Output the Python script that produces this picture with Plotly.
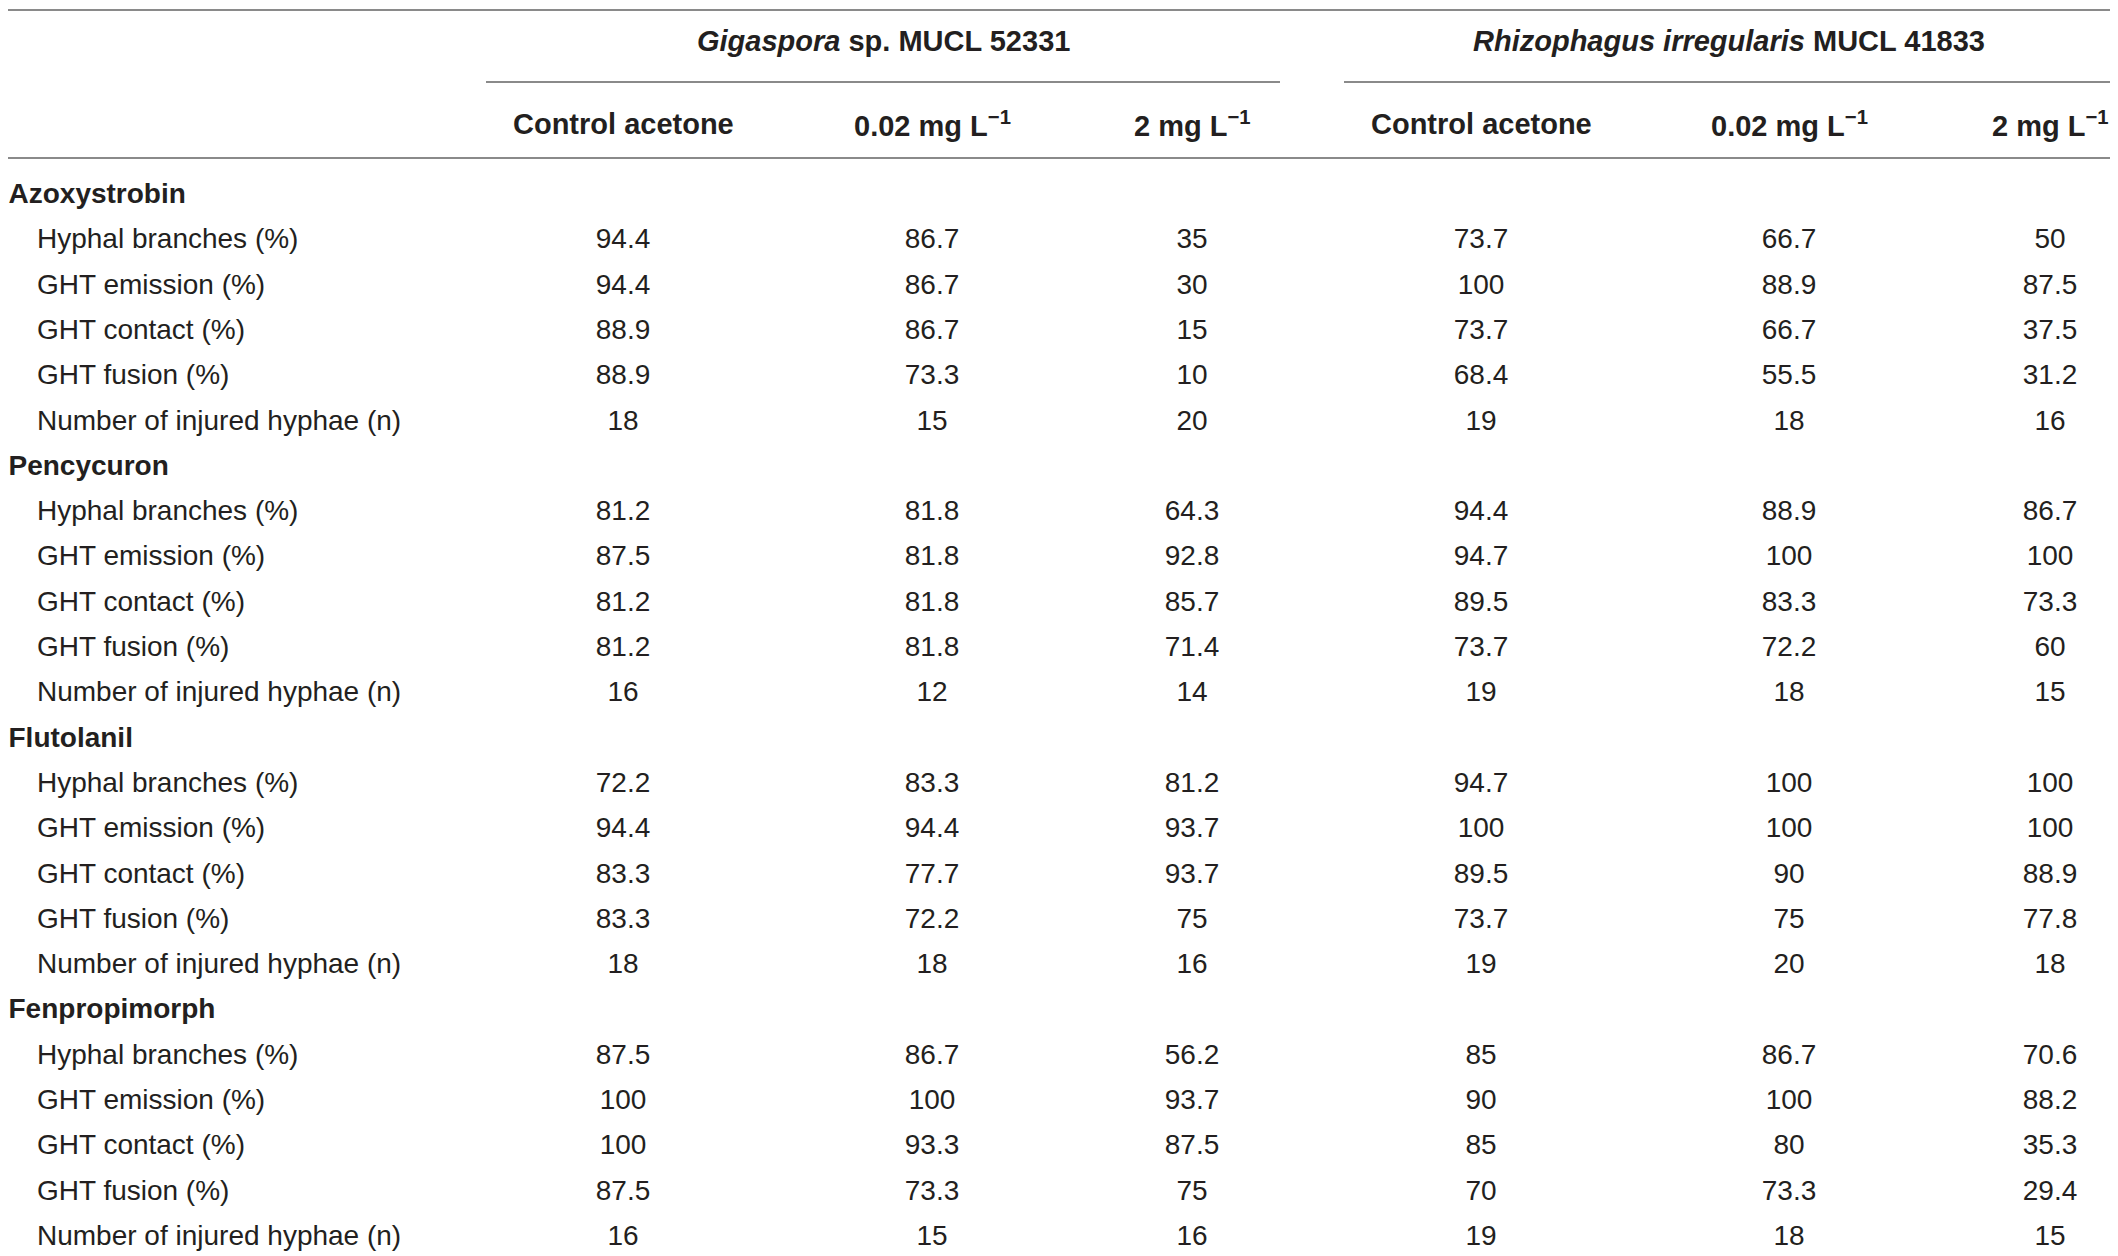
import plotly.graph_objects as go

# table content
compounds = ["Azoxystrobin", "Pencycuron", "Flutolanil", "Fenpropimorph"]
measures = [
    "Hyphal branches (%)",
    "GHT emission (%)",
    "GHT contact (%)",
    "GHT fusion (%)",
    "Number of injured hyphae (n)",
]
species = ["<i>Gigaspora</i> sp. MUCL 52331", "<i>Rhizophagus irregularis</i> MUCL 41833"]
treatments = ["Control acetone", "0.02 mg L<sup>−1</sup>", "2 mg L<sup>−1</sup>"]

# values per compound: Gigaspora (ctrl, 0.02, 2) then Rhizophagus (ctrl, 0.02, 2)
azoxystrobin = [
    ["94.4", "94.4", "88.9", "88.9", "18"],
    ["86.7", "86.7", "86.7", "73.3", "15"],
    ["35", "30", "15", "10", "20"],
    ["73.7", "100", "73.7", "68.4", "19"],
    ["66.7", "88.9", "66.7", "55.5", "18"],
    ["50", "87.5", "37.5", "31.2", "16"],
]
pencycuron = [
    ["81.2", "87.5", "81.2", "81.2", "16"],
    ["81.8", "81.8", "81.8", "81.8", "12"],
    ["64.3", "92.8", "85.7", "71.4", "14"],
    ["94.4", "94.7", "89.5", "73.7", "19"],
    ["88.9", "100", "83.3", "72.2", "18"],
    ["86.7", "100", "73.3", "60", "15"],
]
flutolanil = [
    ["72.2", "94.4", "83.3", "83.3", "18"],
    ["83.3", "94.4", "77.7", "72.2", "18"],
    ["81.2", "93.7", "93.7", "75", "16"],
    ["94.7", "100", "89.5", "73.7", "19"],
    ["100", "100", "90", "75", "20"],
    ["100", "100", "88.9", "77.8", "18"],
]
fenpropimorph = [
    ["87.5", "100", "100", "87.5", "16"],
    ["86.7", "100", "93.3", "73.3", "15"],
    ["56.2", "93.7", "87.5", "75", "16"],
    ["85", "90", "85", "70", "19"],
    ["86.7", "100", "80", "73.3", "18"],
    ["70.6", "88.2", "35.3", "29.4", "15"],
]
table = [azoxystrobin, pencycuron, flutolanil, fenpropimorph]

# layout in pixels (page body has an 8px margin, so the axes are shifted by it)
W, H = 2118, 1256
PAD = 8
col_x = [623, 932, 1192, 1481, 1789, 2050]
group_span = [(486, 1280), (1344, 2113)]
row0, row_step = 196, 45.3
ink = "#231f20"
rule = "#8a8a8a"
fam = "Liberation Sans, Arial, sans-serif"
body = dict(family=fam, size=28, color=ink)
bold = dict(family=fam, size=28, color=ink, weight="bold")
head = dict(family=fam, size=29, color=ink, weight="bold")

fig = go.Figure()

row_y = lambda i: row0 + i * row_step

# compound headings and measure labels
head_y, lab_y, lab_t = [], [], []
for c, name in enumerate(compounds):
    base = c * (len(measures) + 1)
    head_y.append(row_y(base))
    for m, meas in enumerate(measures):
        lab_y.append(row_y(base + 1 + m))
        lab_t.append(meas)

fig.add_trace(go.Scatter(
    x=[8.5] * len(compounds), y=head_y, text=compounds, mode="text",
    textposition="middle right", textfont=bold, hoverinfo="skip", showlegend=False,
    cliponaxis=False,
))
fig.add_trace(go.Scatter(
    x=[37] * len(lab_t), y=lab_y, text=lab_t, mode="text",
    textposition="middle right", textfont=body, hoverinfo="skip", showlegend=False,
    cliponaxis=False,
))

# value cells, one trace per column
for k in range(6):
    xs, ys, ts = [], [], []
    for c, block in enumerate(table):
        base = c * (len(measures) + 1)
        for m, v in enumerate(block[k]):
            xs.append(col_x[k])
            ys.append(row_y(base + 1 + m))
            ts.append(v)
    fig.add_trace(go.Scatter(
        x=xs, y=ys, text=ts, mode="text", textposition="middle center",
        textfont=body, hoverinfo="skip", showlegend=False, cliponaxis=False,
    ))

# column headers
for g, sp in enumerate(species):
    a, b = group_span[g]
    fig.add_annotation(x=(a + b) / 2, y=41, text="<b>" + sp + "</b>", showarrow=False,
                       font=head, xref="x", yref="y")
    fig.add_shape(type="line", x0=a, x1=b, y0=82, y1=82, xref="x", yref="y",
                  line=dict(color=rule, width=2))
    for t, tr in enumerate(treatments):
        fig.add_annotation(x=col_x[g * 3 + t], y=124, text="<b>" + tr + "</b>", showarrow=False,
                           font=head, xref="x", yref="y")

for yy in (10, 158):
    fig.add_shape(type="line", x0=8, x1=2113, y0=yy, y1=yy, xref="x", yref="y",
                  line=dict(color=rule, width=2))

fig.update_layout(
    width=W, height=H,
    margin=dict(l=0, r=0, t=0, b=0),
    paper_bgcolor="white", plot_bgcolor="white",
    xaxis=dict(range=[PAD, W + PAD], visible=False, fixedrange=True),
    yaxis=dict(range=[H + PAD, PAD], visible=False, fixedrange=True),
)

fig.write_html("out.html")
